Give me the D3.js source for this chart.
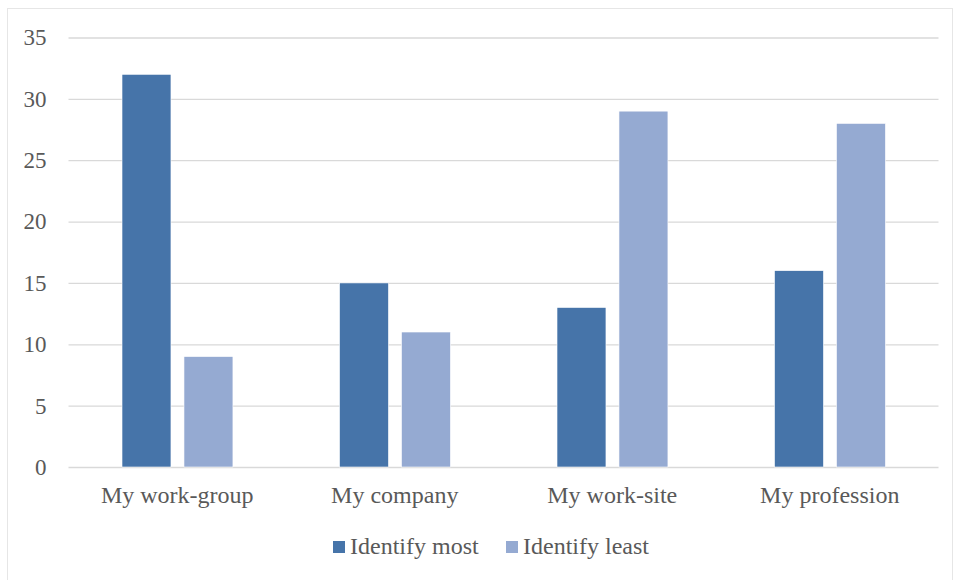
<!DOCTYPE html>
<html><head><meta charset="utf-8">
<script src="https://cdn.jsdelivr.net/npm/d3@7"></script>
<style>body{margin:0;background:#fff}svg{display:block}text{font-family:"Liberation Serif","Times New Roman",serif;fill:#595959}</style>
</head><body>
<svg id="c" width="955" height="580"></svg>
<script>
const categories = ["My work-group", "My company", "My work-site", "My profession"];
const seriesNames = ["Identify most", "Identify least"];
const identifyMost = [32, 15, 13, 16];
const identifyLeast = [9, 11, 29, 28];
const yTicks = [0, 5, 10, 15, 20, 25, 30, 35];
const colors = ["#4674a9", "#95aad2"];

const svg = d3.select("#c");
svg.append("rect").attr("x", 7.5).attr("y", 8.5).attr("width", 945).attr("height", 580)
  .attr("fill", "#fff").attr("stroke", "#e6e6e6");

const pLeft = 68.5, pRight = 938.5, pTop = 37.5, pBottom = 467;
const y = d3.scaleLinear().domain([0, 35]).range([pBottom, pTop]);
const x0 = d3.scaleBand().domain(categories).range([pLeft, pRight]);
const bw = x0.bandwidth();
const x1 = d3.scaleBand().domain(seriesNames).range([bw * 0.246, bw * 0.756]).paddingInner(0.21);

const yAxis = d3.axisLeft(y).tickValues(yTicks).tickSize(-(pRight - pLeft)).tickPadding(22);
const gy = svg.append("g").attr("transform", `translate(${pLeft},0)`).call(yAxis);
gy.select(".domain").remove();
gy.selectAll(".tick line").attr("stroke", "#d9d9d9").attr("stroke-width", 1.3);
gy.selectAll(".tick text").attr("font-size", 23).style("fill", "#595959").attr("font-family", "Liberation Serif");

const data = categories.map((c, i) => ({cat: c, vals: [identifyMost[i], identifyLeast[i]]}));
const groups = svg.append("g").selectAll("g").data(data).join("g")
  .attr("transform", d => `translate(${x0(d.cat)},0)`);
groups.selectAll("rect").data(d => d.vals.map((v, j) => ({s: seriesNames[j], v, j}))).join("rect")
  .attr("x", d => x1(d.s)).attr("width", x1.bandwidth())
  .attr("y", d => y(d.v)).attr("height", d => y(0) - y(d.v))
  .attr("fill", d => colors[d.j]).attr("stroke", "#fff").attr("stroke-width", 0.6);

const xAxis = d3.axisBottom(x0).tickSize(0).tickPadding(19);
const gx = svg.append("g").attr("transform", `translate(0,${pBottom})`).call(xAxis);
gx.select(".domain").remove();
gx.selectAll(".tick text").attr("font-size", 24).style("fill", "#595959").attr("font-family", "Liberation Serif");

// legend
const legendX = [333, 506];
const lg = svg.append("g").selectAll("g").data(seriesNames).join("g")
  .attr("transform", (d, i) => `translate(${legendX[i]},541)`);
lg.append("rect").attr("width", 12).attr("height", 12).attr("fill", (d, i) => colors[i]);
lg.append("text").attr("x", 17).attr("y", 13).attr("font-size", 24).text(d => d);
</script>
</body></html>
